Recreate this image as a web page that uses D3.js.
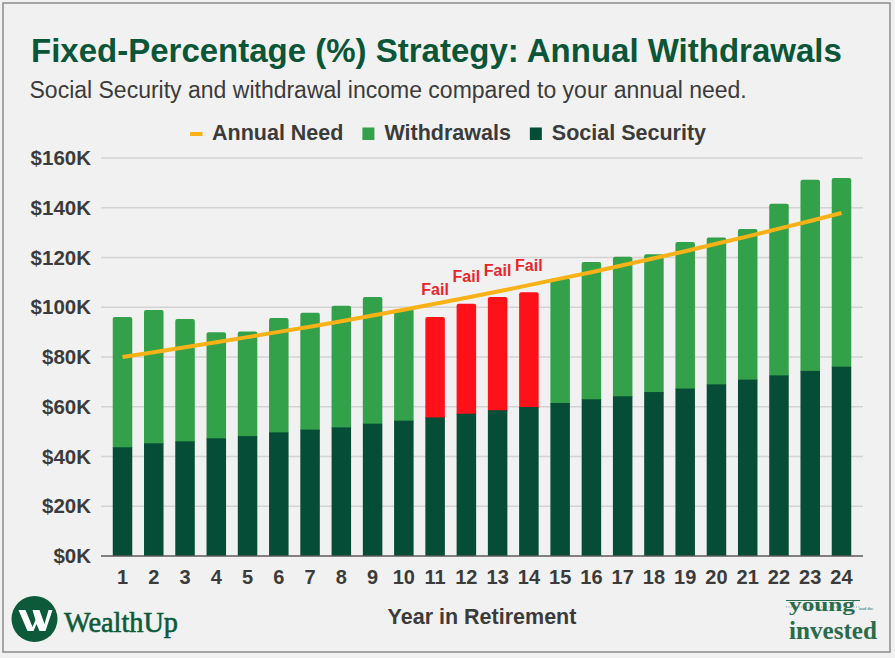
<!DOCTYPE html>
<html>
<head>
<meta charset="utf-8">
<script src="https://cdn.jsdelivr.net/npm/d3@7/dist/d3.min.js"></script>
<style>
  html, body { margin: 0; padding: 0; background: #f1f1f1; }
  svg { display: block; }
</style>
</head>
<body>
<svg id="chart" width="895" height="658" font-family="Liberation Sans, Arial, Helvetica, sans-serif"></svg>
<script>
// ---- Data (values in $ thousands) ----
const years = [1,2,3,4,5,6,7,8,9,10,11,12,13,14,15,16,17,18,19,20,21,22,23,24];
const socialSecurity = [43.7,45.3,46.1,47.3,48.2,49.7,50.8,51.7,53.2,54.4,55.7,57.2,58.6,59.9,61.5,63.0,64.2,65.9,67.3,69.0,70.9,72.6,74.4,76.1];
const withdrawals = [52.4,53.6,49.2,42.6,42.1,46.0,47.0,48.9,50.9,44.8,40.4,44.2,45.5,46.1,50.1,55.2,56.1,55.4,58.9,59.0,60.6,69.0,76.9,75.9];
const annualNeed = [80.0,81.9,83.9,85.9,88.0,90.1,92.2,94.4,96.7,99.0,101.4,103.8,106.3,108.9,111.5,114.1,116.9,119.7,122.5,125.5,128.5,131.6,134.7,137.9];
const yTicks = [0,20,40,60,80,100,120,140,160];
const legendItems = ["Annual Need", "Withdrawals", "Social Security"];
const titleText = "Fixed-Percentage (%) Strategy: Annual Withdrawals";
const subtitleText = "Social Security and withdrawal income compared to your annual need.";
const xAxisTitle = "Year in Retirement";
const failLabel = "Fail";

// ---- Styles ----
const SANS = "Liberation Sans, Arial, Helvetica, sans-serif";
const SERIF = "Liberation Serif, 'Times New Roman', serif";
const C = {
  bg: "#f1f1f1", border: "#8c8c8c", title: "#0b5638", text: "#3b3b3b",
  ss: "#054d36", wd: "#33a04a", fail: "#fe1119", need: "#f9b118",
  grid: "#d3d3d3", axis: "#5a5a5a", failText: "#e8262c"
};

const svg = d3.select("#chart");
svg.append("rect").attr("x", 3).attr("y", 3).attr("width", 887).attr("height", 649)
  .attr("fill", C.bg).attr("stroke", C.border).attr("stroke-width", 1.5);

// Title and subtitle
svg.append("text").attr("x", 31).attr("y", 61.5).text(titleText).style("font-family", SANS)
  .attr("font-size", 33).attr("font-weight", "bold").attr("fill", C.title);
svg.append("text").attr("x", 29.5).attr("y", 98).text(subtitleText).style("font-family", SANS)
  .attr("font-size", 23).attr("fill", C.text);

// Scales
const plotL = 101, plotR = 863, plotT = 158, plotB = 556;
const x = d3.scaleBand().domain(years).range([plotL, plotR]).paddingInner(0.376).paddingOuter(0.376);
const y = d3.scaleLinear().domain([0, 160]).range([plotB, plotT]);

// Gridlines
svg.append("g").selectAll("line").data(yTicks.filter(d => d > 0)).join("line")
  .attr("x1", plotL).attr("x2", plotR)
  .attr("y1", d => y(d)).attr("y2", d => y(d))
  .attr("stroke", C.grid).attr("stroke-width", 1.5);

// Y axis labels
const yAxis = d3.axisLeft(y).tickValues(yTicks).tickSize(0).tickPadding(0)
  .tickFormat(d => "$" + d + "K");
const gy = svg.append("g").attr("transform", `translate(${plotL - 10},0)`).call(yAxis);
gy.select(".domain").remove();
gy.selectAll("text").attr("font-size", 20.5).attr("font-weight", "bold")
  .attr("fill", C.text).style("font-family", SANS);

// Stacked bars
const stackData = years.map((yr, i) => ({
  year: yr, ss: socialSecurity[i], wd: withdrawals[i], need: annualNeed[i],
  failed: socialSecurity[i] + withdrawals[i] < annualNeed[i]
}));
const bw = x.bandwidth();
const bars = svg.append("g");
bars.selectAll("rect.wd").data(stackData).join("rect").attr("class", "wd")
  .attr("x", d => x(d.year)).attr("width", bw)
  .attr("y", d => y(d.ss + d.wd)).attr("height", d => y(d.ss) - y(d.ss + d.wd) + 2)
  .attr("rx", 2).attr("fill", d => d.failed ? C.fail : C.wd);
bars.selectAll("rect.ss").data(stackData).join("rect").attr("class", "ss")
  .attr("x", d => x(d.year)).attr("width", bw)
  .attr("y", d => y(d.ss)).attr("height", d => y(0) - y(d.ss))
  .attr("fill", C.ss);

// X axis
const xAxis = d3.axisBottom(x).tickSize(0).tickPadding(0);
const gx = svg.append("g").attr("transform", `translate(0,${plotB})`).call(xAxis);
gx.select(".domain").remove();
gx.selectAll("text").attr("dy", null).attr("y", 28).attr("font-size", 20).attr("font-weight", "bold")
  .attr("fill", C.text).style("font-family", SANS);
svg.append("line").attr("x1", plotL).attr("x2", plotR).attr("y1", plotB).attr("y2", plotB)
  .attr("stroke", C.axis).attr("stroke-width", 1.5);

// Annual need line
const line = d3.line().x(d => x(d.year) + bw / 2).y(d => y(d.need));
svg.append("path").datum(stackData).attr("d", line)
  .attr("fill", "none").attr("stroke", C.need).attr("stroke-width", 4);

// Fail labels
svg.append("g").selectAll("text").data(stackData.filter(d => d.failed)).join("text")
  .attr("x", d => x(d.year) + bw / 2).attr("y", d => y(d.ss + d.wd) - 21.5)
  .attr("text-anchor", "middle").attr("font-size", 16).attr("font-weight", "bold")
  .style("font-family", SANS).attr("fill", C.failText).text(failLabel);

// X axis title
svg.append("text").attr("x", 482).attr("y", 624).attr("text-anchor", "middle").style("font-family", SANS)
  .attr("font-size", 21.5).attr("font-weight", "bold").attr("fill", C.text).text(xAxisTitle);

// Legend
const lg = svg.append("g");
const legendColors = [C.need, C.wd, C.ss];
let cx = 0;
legendItems.forEach((name, i) => {
  const g = lg.append("g").attr("transform", `translate(${cx},0)`);
  if (i === 0) {
    g.append("rect").attr("x", 0).attr("y", -8).attr("width", 12.5).attr("height", 4).attr("fill", legendColors[i]);
  } else {
    g.append("rect").attr("x", 0).attr("y", -12.5).attr("width", 12).attr("height", 12.5).attr("fill", legendColors[i]);
  }
  const t = g.append("text").attr("x", 22).attr("y", 0).attr("font-size", 21.5).style("font-family", SANS)
    .attr("font-weight", "bold").attr("fill", C.text).text(name);
  const w = t.node().getComputedTextLength();
  cx += 22 + w + 19;
});
const totalW = cx - 19;
lg.attr("transform", `translate(${448 - totalW / 2},140)`);

// WealthUp logo
const logo = svg.append("g").attr("transform", "translate(34.5,619)");
logo.append("circle").attr("r", 23).attr("fill", "#0d5a3b");
logo.append("path")
  .attr("d", "M-16,-9 L-9,-9 L-2,8 L1,1 L-2,-9 L5,-9 L10,5 L14,-9 L18,-9 L11,12 L5,12 L2,5 L-1,12 L-7,12 Z")
  .attr("fill", "#ffffff");
svg.append("text").attr("x", 64).attr("y", 632).style("font-family", SERIF)
  .attr("font-size", 29).attr("fill", "#0d5a3b").attr("stroke", "#0d5a3b").attr("stroke-width", 0.6)
  .attr("textLength", 114).attr("lengthAdjust", "spacingAndGlyphs")
  .text("WealthUp");

// young and the invested logo
const yi = svg.append("g").attr("fill", "#2a6b4b");
yi.append("line").attr("x1", 786).attr("x2", 860).attr("y1", 600.5).attr("y2", 600.5)
  .attr("stroke", "#2a6b4b").attr("stroke-width", 1);
yi.append("line").attr("x1", 786).attr("x2", 860).attr("y1", 607).attr("y2", 607)
  .attr("stroke", "#2a6b4b").attr("stroke-width", 0.6).attr("stroke-dasharray", "1,1.5");
yi.append("text").attr("x", 789).attr("y", 611).style("font-family", SERIF)
  .attr("font-weight", "bold").attr("font-size", 19).attr("textLength", 66).attr("lengthAdjust", "spacingAndGlyphs")
  .text("young");
yi.append("text").attr("x", 859).attr("y", 610).style("font-family", SERIF)
  .attr("font-size", 5).text("and the");
yi.append("text").attr("x", 789).attr("y", 639).style("font-family", SERIF)
  .attr("font-weight", "bold").attr("font-size", 25).attr("textLength", 88).attr("lengthAdjust", "spacingAndGlyphs")
  .text("invested");
</script>
</body>
</html>
